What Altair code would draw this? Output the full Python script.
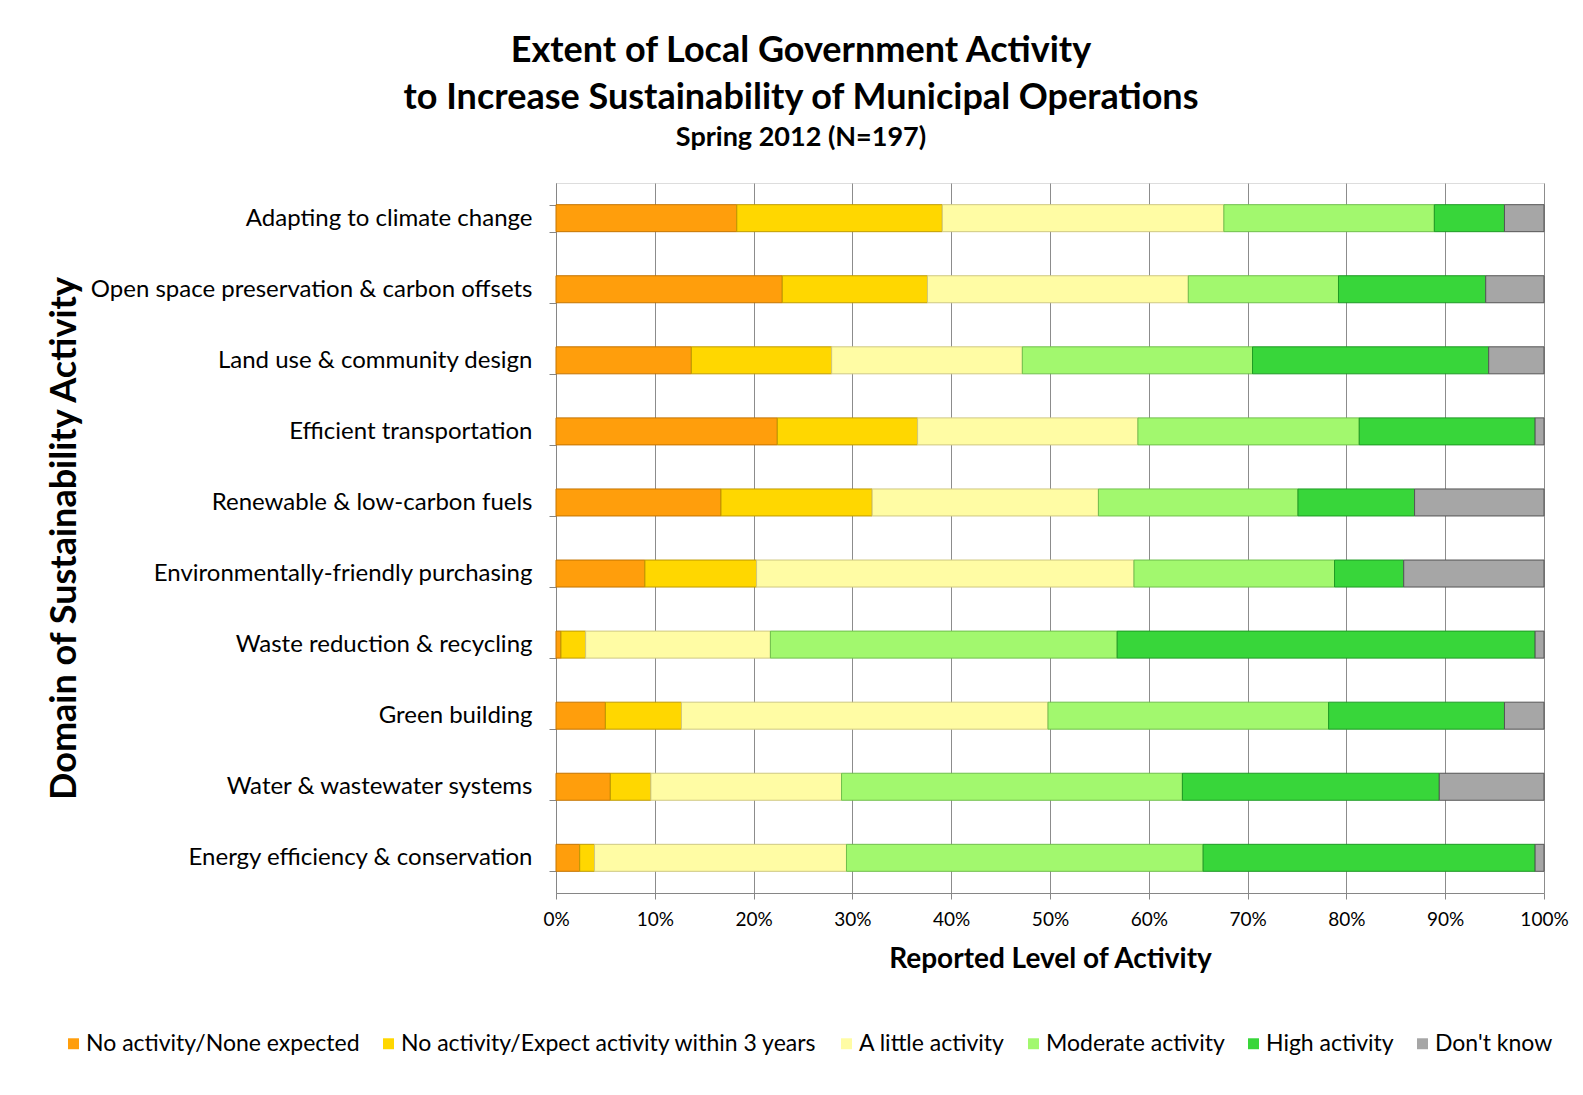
import altair as alt
import pandas as pd

categories = [
    "Adapting to climate change",
    "Open space preservation & carbon offsets",
    "Land use & community design",
    "Efficient transportation",
    "Renewable & low-carbon fuels",
    "Environmentally-friendly purchasing",
    "Waste reduction & recycling",
    "Green building",
    "Water & wastewater systems",
    "Energy efficiency & conservation",
]
levels = [
    "No activity/None expected",
    "No activity/Expect activity within 3 years",
    "A little activity",
    "Moderate activity",
    "High activity",
    "Don't know",
]
none_expected = [18.3, 22.9, 13.7, 22.4, 16.7, 9.0, 0.5, 5.0, 5.5, 2.4]
expect_3yrs = [20.8, 14.7, 14.2, 14.2, 15.3, 11.3, 2.5, 7.7, 4.1, 1.5]
little = [28.5, 26.4, 19.3, 22.3, 22.9, 38.2, 18.7, 37.1, 19.3, 25.5]
moderate = [21.3, 15.2, 23.3, 22.4, 20.2, 20.3, 35.1, 28.4, 34.5, 36.1]
high = [7.1, 14.9, 23.9, 17.8, 11.8, 7.0, 42.3, 17.8, 26.0, 33.6]
dont_know = [4.0, 5.9, 5.6, 0.9, 13.1, 14.2, 0.9, 4.0, 10.6, 0.9]
x_ticks = [0, 0.1, 0.2, 0.3, 0.4, 0.5, 0.6, 0.7, 0.8, 0.9, 1.0]

fills = ["#FF9E0C", "#FFD700", "#FFFCA4", "#A2F86E", "#38D63A", "#A6A6A6"]
strokes = ["#C47400", "#BF9B00", "#CFC882", "#70BF4C", "#1E9A24", "#555555"]

series = [none_expected, expect_3yrs, little, moderate, high, dont_know]
rows = []
for li, (lvl, vals) in enumerate(zip(levels, series)):
    for cat, v in zip(categories, vals):
        rows.append({"category": cat, "level": lvl, "value": v, "idx": li})
df = pd.DataFrame(rows)

FONT = "Lato"
PLOT_W = 988
PLOT_H = 710

chart = alt.Chart(df).mark_bar(strokeWidth=1).encode(
    x=alt.X(
        "value:Q",
        stack="normalize",
        scale=alt.Scale(domain=[0, 1], nice=False),
        axis=alt.Axis(
            values=x_ticks,
            format=".0%",
            title="Reported Level of Activity",
            titleFont=FONT,
            titleFontSize=28,
            titleFontWeight="bold",
            titleColor="black",
            titlePadding=16,
            labelFont=FONT,
            labelFontSize=19,
            labelColor="black",
            labelPadding=11,
            grid=True,
            gridColor="#8C8C8C",
            domainColor="#868686",
            tickColor="#868686",
            tickSize=6,
            labelFlush=False,
        ),
    ),
    y=alt.Y(
        "category:N",
        sort=categories,
        scale=alt.Scale(paddingInner=0.62, paddingOuter=0.305),
        axis=alt.Axis(
            title="Domain of Sustainability Activity",
            titleFont=FONT,
            titleFontSize=36,
            titleFontWeight="bold",
            titleColor="black",
            titleX=-492,
            titleY=PLOT_H / 2,
            titleAngle=270,
            titleAlign="center",
            titleBaseline="middle",
            labelFont=FONT,
            labelFontSize=24,
            labelColor="black",
            labelPadding=17,
            labelLimit=600,
            tickBand="extent",
            tickColor="#868686",
            domainColor="#868686",
            tickSize=7,
            grid=False,
        ),
    ),
    color=alt.Color(
        "level:N",
        sort=levels,
        scale=alt.Scale(domain=levels, range=fills),
        legend=alt.Legend(
            title=None,
            orient="none",
            legendX=-494,
            legendY=849,
            direction="horizontal",
            columns=6,
            symbolType="square",
            symbolSize=120,
            symbolStrokeWidth=0,
            labelFont=FONT,
            labelFontSize=23,
            labelColor="black",
            labelLimit=600,
            columnPadding=17,
            labelOffset=1,
        ),
    ),
    stroke=alt.Stroke("level:N", sort=levels, scale=alt.Scale(domain=levels, range=strokes), legend=None),
    order=alt.Order("idx:Q"),
).properties(
    width=PLOT_W,
    height=PLOT_H,
    title=alt.TitleParams(
        text=["Extent of Local Government Activity", "to Increase Sustainability of Municipal Operations"],
        subtitle="Spring 2012 (N=197)",
        font=FONT,
        fontSize=36,
        fontWeight="bold",
        color="black",
        lineHeight=47.5,
        subtitleFont=FONT,
        subtitleFontSize=27,
        subtitleFontWeight="bold",
        subtitleColor="black",
        subtitlePadding=8,
        anchor="middle",
        dx=-249,
        offset=19,
    ),
    autosize=alt.AutoSizeParams(type="none"),
    padding={"left": 548, "top": 175, "right": 30, "bottom": 186},
).configure_view(stroke=None).configure(background="white")

chart.save("out.html", embed_options={"renderer": "svg", "actions": False})
